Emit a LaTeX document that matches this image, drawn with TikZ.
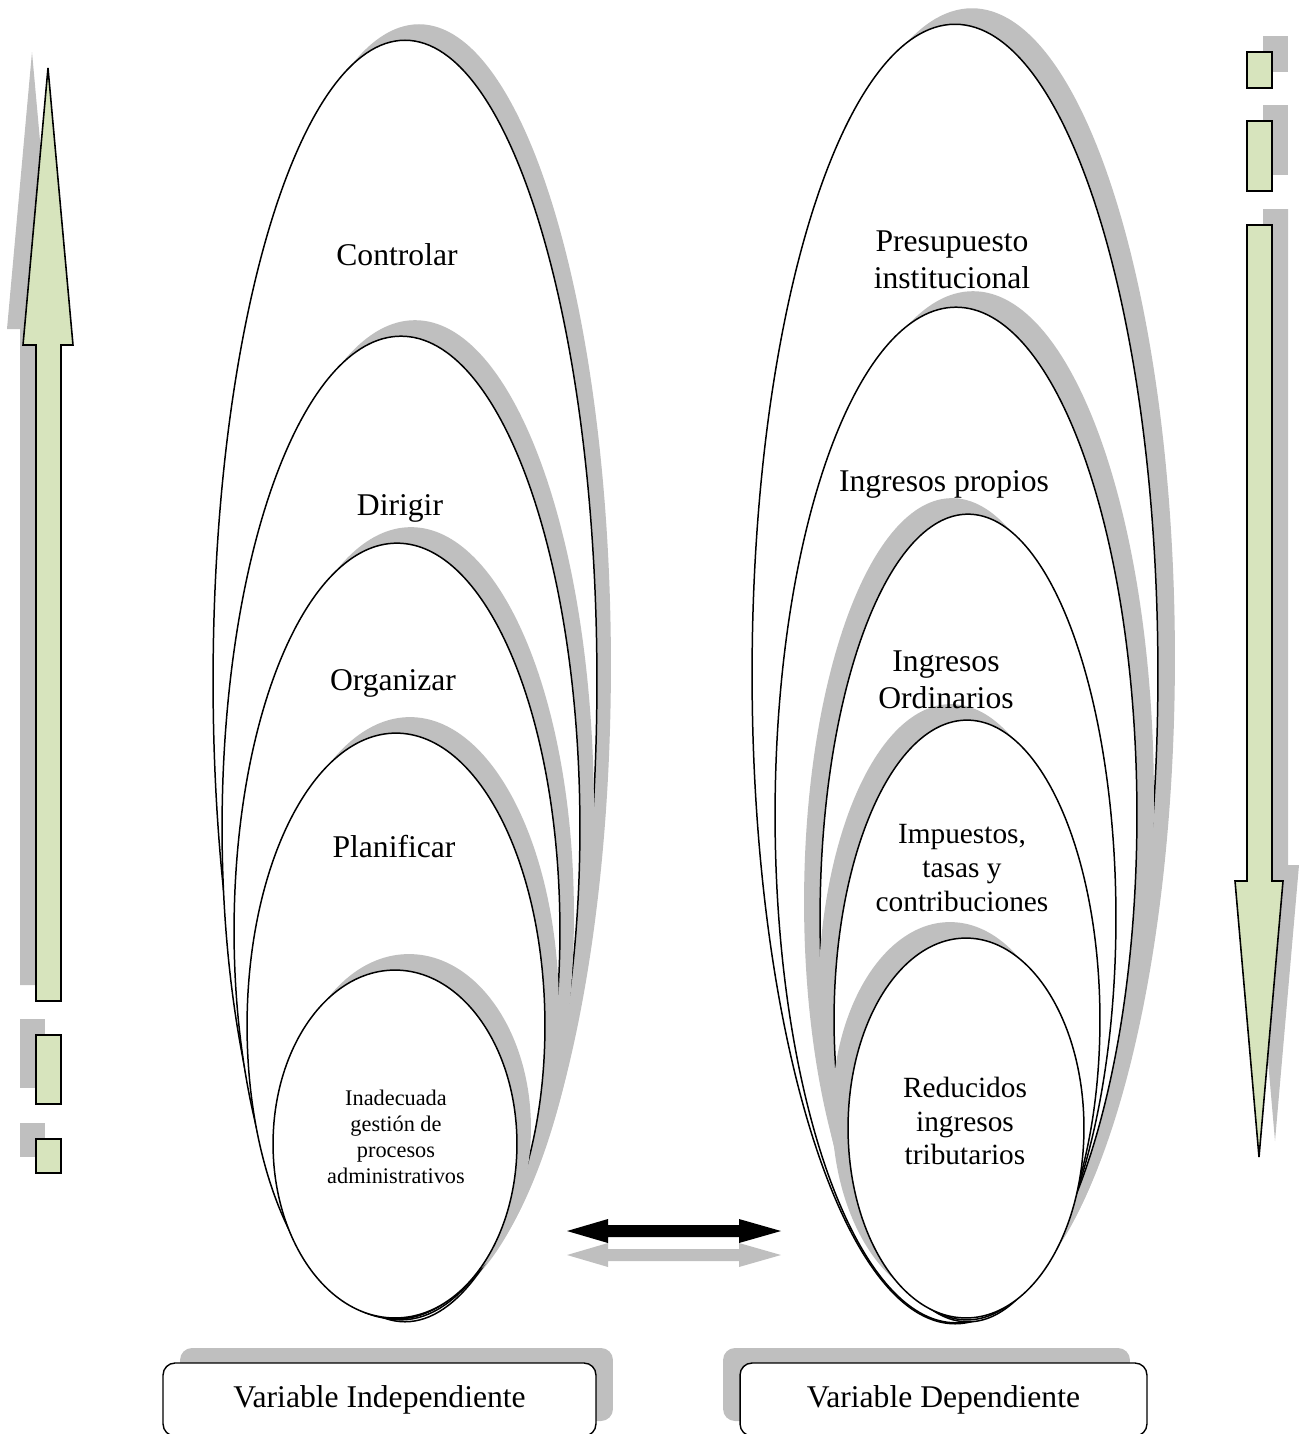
\documentclass[tikz,border=0pt]{standalone}
\usepackage{fontspec}
\setmainfont{Liberation Serif}
\usetikzlibrary{shapes.geometric,shadows}
\definecolor{shadowgray}{RGB}{191,191,191}
\definecolor{leaf}{RGB}{215,228,189}

\begin{document}
\begin{tikzpicture}[x=0.02cm,y=-0.02cm,
  oval/.style 2 args={ellipse, draw=black, line width=0.85pt, fill=white,
    inner sep=0pt, outer sep=0pt,
    minimum width=#1*0.04cm, minimum height=#2*0.04cm},
  shadeNE/.style={drop shadow={shadow xshift=0.28cm, shadow yshift=0.32cm,
    fill=shadowgray, opacity=1}},
  shadeNEb/.style={drop shadow={shadow xshift=0.34cm, shadow yshift=0.32cm,
    fill=shadowgray, opacity=1}},
  shadeNW/.style={drop shadow={shadow xshift=-0.32cm, shadow yshift=0.32cm,
    fill=shadowgray, opacity=1}},
  big/.style={font=\fontsize{18}{21}\selectfont, align=center, inner sep=0pt},
  mid/.style={font=\fontsize{16.7}{19.2}\selectfont, align=center, inner sep=0pt},
  small/.style={font=\fontsize{12.7}{14.8}\selectfont, align=center, inner sep=0pt},
  label box/.style={rectangle, rounded corners=0.24cm, draw=black,
    line width=0.8pt, fill=white, minimum height=1.46cm,
    font=\fontsize{18}{21}\selectfont},
  bar/.style={draw=black, line width=0.9pt, fill=leaf, line join=miter},
  barshadow/.style={fill=shadowgray},
]
\useasboundingbox (0,0) rectangle (1301,1434);
\clip (0,0) rectangle (1301,1434);

% ---- left column: rising arrow and blocks ----
\begin{scope}[shift={(-16,-16)}]
  \path[barshadow] (48,68) -- (73,345) -- (61,345) -- (61,1001) -- (36,1001)
    -- (36,345) -- (23,345) -- cycle;
  \path[barshadow] (36,1035) rectangle (61,1104);
  \path[barshadow] (36,1139) rectangle (61,1173);
\end{scope}
\draw[bar] (48,68) -- (73,345) -- (61,345) -- (61,1001) -- (36,1001)
  -- (36,345) -- (23,345) -- cycle;
\draw[bar] (36,1035) rectangle (61,1104);
\draw[bar] (36,1139) rectangle (61,1173);

% ---- right column: falling arrow and blocks ----
\begin{scope}[shift={(16,-16)}]
  \path[barshadow] (1247,225) -- (1272,225) -- (1272,881) -- (1283,881)
    -- (1259,1157) -- (1235,881) -- (1247,881) -- cycle;
  \path[barshadow] (1247,52) rectangle (1272,88);
  \path[barshadow] (1247,121) rectangle (1272,191);
\end{scope}
\draw[bar] (1247,225) -- (1272,225) -- (1272,881) -- (1283,881)
  -- (1259,1157) -- (1235,881) -- (1247,881) -- cycle;
\draw[bar] (1247,52) rectangle (1272,88);
\draw[bar] (1247,121) rectangle (1272,191);

% ---- independent variable: nested ovals ----
\node[oval={192}{641}, shadeNE] (L1) at (405,681) {};
\node[oval={179}{492}, shadeNE] (L2) at (401,828) {};
\node[oval={163}{388}, shadeNE] (L3) at (397,931) {};
\node[oval={149}{293}, shadeNE] (L4) at (396,1026) {};
\node[oval={122}{174}, shadeNE] (L5) at (395,1144) {};

\node[big] (tL1) at (397,255) {Controlar};
\node[big] (tL2) at (400,508) {Dirigir};
\node[big] (tL3) at (393,683) {Organizar};
\node[big] (tL4) at (394,847) {Planificar};
\node[small] (tL5) at (396,1137) {Inadecuada\\gestión de\\procesos\\administrativos};

% ---- dependent variable: nested ovals ----
\node[oval={203}{650}, shadeNEb] (R1) at (955,674) {};
\node[oval={181}{508}, shadeNEb] (R2) at (956,815) {};
\node[oval={148}{404}, shadeNW] (R3) at (968,918) {};
\node[oval={133}{300}, shadeNW] (R4) at (967,1020) {};
\node[oval={118}{190}, shadeNW] (R5) at (966,1128) {};

\node[big] (tR1) at (952,260) {Presupuesto\\institucional};
\node[big] (tR2) at (944,484) {Ingresos propios};
\node[big] (tR3) at (946,680) {Ingresos\\Ordinarios};
\node[mid] (tR4) at (962,868) {Impuestos,\\tasas y\\contribuciones};
\node[mid] (tR5) at (965,1121) {Reducidos\\ingresos\\tributarios};

% ---- two-way relation arrow ----
\path[barshadow] (567,1255) -- (608,1243) -- (608,1249) -- (739,1249) -- (739,1243)
  -- (781,1255) -- (739,1267) -- (739,1261) -- (608,1261) -- (608,1267) -- cycle;
\fill[black] (567,1231) -- (608,1219) -- (608,1225) -- (739,1225) -- (739,1219)
  -- (781,1231) -- (739,1243) -- (739,1237) -- (608,1237) -- (608,1243) -- cycle;

% ---- captions ----
\node[label box, minimum width=8.66cm,
  drop shadow={shadow xshift=0.34cm, shadow yshift=0.3cm, fill=shadowgray, opacity=1}]
  (vi) at (379.5,1399.5) {Variable Independiente};
\node[label box, minimum width=8.14cm,
  drop shadow={shadow xshift=-0.34cm, shadow yshift=0.3cm, fill=shadowgray, opacity=1}]
  (vd) at (943.5,1399.5) {Variable Dependiente};
\end{tikzpicture}
\end{document}
